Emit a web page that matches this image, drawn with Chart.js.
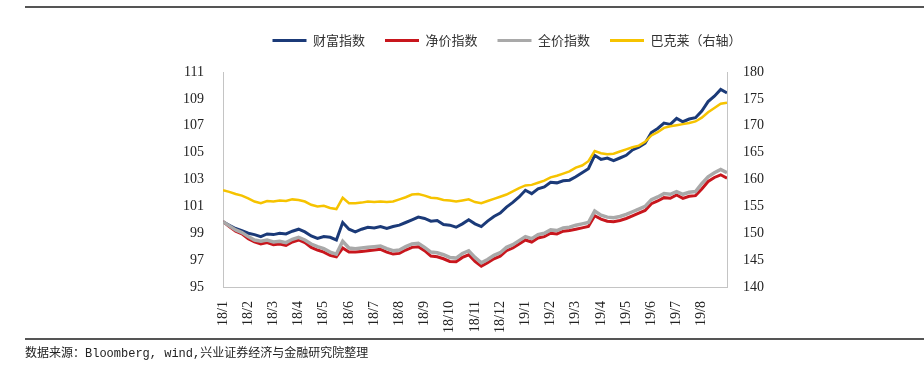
<!DOCTYPE html>
<html>
<head>
<meta charset="utf-8">
<script src="https://cdn.jsdelivr.net/npm/chart.js@4.4.0/dist/chart.umd.min.js"></script>
<style>
  html, body { margin: 0; padding: 0; background: #fff; }
  #wrap { position: relative; width: 924px; height: 369px; }
  #chart { position: absolute; left: 0; top: 0; }
  .rule { position: absolute; left: 25px; right: 0; height: 2px; background: #555; }
  #source { position: absolute; left: 25px; top: 343px; font: 12px 'Liberation Mono', 'Noto Sans CJK SC', monospace; color: #222; white-space: nowrap; }
</style>
</head>
<body>
<div id="wrap">
  <canvas id="chart" width="924" height="369"></canvas>
  <div class="rule" style="top:6px"></div>
  <div class="rule" style="top:338px"></div>
  <div id="source">数据来源：Bloomberg, wind,兴业证券经济与金融研究院整理</div>
</div>
<script>
// month tick labels, one per month start
var monthLabels = ['18/1','18/2','18/3','18/4','18/5','18/6','18/7','18/8','18/9','18/10',
                   '18/11','18/12','19/1','19/2','19/3','19/4','19/5','19/6','19/7','19/8'];

// x position of each reading, in months from 2018-01 (read every quarter month)
var monthPos = [0,0.25,0.5,0.75, 1,1.25,1.5,1.75, 2,2.25,2.5,2.75, 3,3.25,3.5,3.75,
                4,4.25,4.5,4.75, 5,5.25,5.5,5.75, 6,6.25,6.5,6.75, 7,7.25,7.5,7.75,
                8,8.25,8.5,8.75, 9,9.25,9.5,9.75, 10,10.25,10.5,10.75, 11,11.25,11.5,11.75,
                12,12.25,12.5,12.75, 13,13.25,13.5,13.75, 14,14.25,14.5,14.75, 15,15.25,15.5,15.75,
                16,16.25,16.5,16.75, 17,17.25,17.5,17.75, 18,18.25,18.5,18.75, 19,19.25,19.5,19.75, 20];

// 财富指数 (left axis)
var wealthIndex = [99.86,99.6,99.35,99.2, 99.0,98.9,98.75,98.95, 98.9,99.0,98.95,99.15, 99.3,99.1,98.8,98.62,
                   98.75,98.7,98.5,99.8, 99.3,99.11,99.3,99.45, 99.4,99.5,99.35,99.5, 99.6,99.8,100.0,100.2,
                   100.1,99.9,99.95,99.65, 99.6,99.45,99.7,100.0, 99.7,99.5,99.9,100.25, 100.5,100.95,101.3,101.7,
                   102.2,101.95,102.3,102.45, 102.8,102.75,102.9,102.95, 103.2,103.5,103.8,104.8, 104.5,104.6,104.4,104.6,
                   104.8,105.2,105.4,105.7, 106.5,106.8,107.2,107.1, 107.55,107.3,107.5,107.6, 108.1,108.8,109.2,109.7, 109.45];

// 净价指数 (left axis)
var cleanIndex = [99.86,99.5,99.15,98.95, 98.6,98.35,98.2,98.3, 98.15,98.2,98.1,98.35, 98.5,98.3,97.95,97.75,
                  97.6,97.35,97.25,97.9, 97.6,97.6,97.65,97.7, 97.75,97.8,97.6,97.45, 97.5,97.75,97.95,98.0,
                  97.7,97.3,97.25,97.1, 96.9,96.88,97.2,97.4, 96.9,96.55,96.8,97.1, 97.3,97.7,97.9,98.2,
                  98.5,98.35,98.65,98.75, 99.0,98.95,99.15,99.2, 99.3,99.4,99.5,100.3, 100.05,99.9,99.85,99.95,
                  100.1,100.3,100.5,100.7, 101.2,101.4,101.65,101.6, 101.85,101.6,101.75,101.8, 102.3,102.85,103.15,103.35, 103.1];

// 全价指数 (left axis)
var fullIndex = [99.86,99.55,99.25,99.05, 98.75,98.5,98.4,98.5, 98.35,98.4,98.3,98.55, 98.7,98.5,98.2,98.0,
                 97.85,97.6,97.45,98.4, 97.9,97.85,97.9,97.95, 98.0,98.05,97.85,97.7, 97.75,98.0,98.2,98.25,
                 97.95,97.6,97.55,97.4, 97.2,97.15,97.5,97.7, 97.2,96.8,97.05,97.35, 97.55,97.95,98.15,98.45,
                 98.75,98.6,98.9,99.0, 99.25,99.2,99.4,99.45, 99.6,99.7,99.8,100.65, 100.35,100.2,100.15,100.25,
                 100.4,100.6,100.8,101.0, 101.5,101.7,101.95,101.9, 102.1,101.9,102.05,102.1, 102.7,103.2,103.5,103.75, 103.5];

// 巴克莱 (right axis)
var barclays = [158.0,157.7,157.3,157.0, 156.5,155.9,155.6,156.0, 155.9,156.1,156.0,156.3, 156.2,155.9,155.3,155.0,
                155.1,154.7,154.5,156.6, 155.6,155.6,155.7,155.9, 155.8,155.9,155.8,155.9, 156.3,156.7,157.2,157.3,
                157.0,156.6,156.5,156.2, 156.1,155.9,156.1,156.3, 155.8,155.6,156.0,156.4, 156.8,157.2,157.8,158.4,
                158.9,159.0,159.4,159.8, 160.4,160.7,161.1,161.5, 162.2,162.6,163.4,165.3, 164.9,164.7,164.8,165.2,
                165.6,166.0,166.3,167.0, 168.2,168.8,169.6,169.9, 170.1,170.3,170.5,170.8, 171.5,172.5,173.3,174.1, 174.3];

function toPoints(ys) {
  return ys.map(function (y, i) { return { x: monthPos[i], y: y }; });
}

// push the plot area down below the legend
var legendGap = {
  id: 'legendGap',
  beforeInit: function (chart) {
    var origFit = chart.legend.fit;
    chart.legend.fit = function () {
      origFit.bind(chart.legend)();
      this.height += 15;
    };
  }
};

var serif = { family: "'Liberation Serif', 'Times New Roman', serif", size: 14 };
var axisBorder = { display: true, color: '#c4c4c4', dash: [2, 2] };

var ctx = document.getElementById('chart').getContext('2d');
var chart = new Chart(ctx, {
  type: 'line',
  data: {
    datasets: [
      { label: '财富指数', data: toPoints(wealthIndex), borderColor: '#1b3a78', backgroundColor: '#1b3a78',
        borderWidth: 3, pointRadius: 0, yAxisID: 'y', order: 4 },
      { label: '净价指数', data: toPoints(cleanIndex), borderColor: '#c8161d', backgroundColor: '#c8161d',
        borderWidth: 3, pointRadius: 0, yAxisID: 'y', order: 3 },
      { label: '全价指数', data: toPoints(fullIndex), borderColor: '#a9a9a9', backgroundColor: '#a9a9a9',
        borderWidth: 3.5, pointRadius: 0, yAxisID: 'y', order: 2 },
      { label: '巴克莱（右轴）', data: toPoints(barclays), borderColor: '#f6c300', backgroundColor: '#f6c300',
        borderWidth: 2.5, pointRadius: 0, yAxisID: 'y1', order: 1 }
    ]
  },
  options: {
    responsive: false,
    animation: false,
    events: [],
    layout: { padding: { top: 14, left: 110, right: 20, bottom: 30 } },
    plugins: {
      tooltip: { enabled: false },
      legend: {
        position: 'top',
        labels: {
          boxWidth: 34,
          boxHeight: 3,
          padding: 20,
          color: '#333',
          font: { family: "'Noto Sans CJK SC', sans-serif", size: 13 },
          sort: function (a, b) { return a.datasetIndex - b.datasetIndex; },
          generateLabels: function (chart) {
            var items = Chart.defaults.plugins.legend.labels.generateLabels(chart);
            items.forEach(function (it) { it.lineWidth = 0; });
            return items;
          }
        }
      }
    },
    scales: {
      x: {
        type: 'linear', min: 0, max: 20,
        grid: { display: false },
        border: axisBorder,
        ticks: {
          stepSize: 1, autoSkip: false, maxRotation: 90, minRotation: 90, padding: 6,
          color: '#222', font: serif,
          callback: function (v) { return monthLabels[v] || ''; }
        },
        afterFit: function (scale) { scale.height = 52; }
      },
      y: {
        position: 'left', min: 95, max: 111,
        grid: { display: false },
        border: axisBorder,
        ticks: { stepSize: 2, padding: 11, color: '#222', font: serif },
        afterFit: function (scale) { scale.width = 113; }
      },
      y1: {
        position: 'right', min: 140, max: 180,
        grid: { display: false },
        border: axisBorder,
        ticks: { stepSize: 5, padding: 8, color: '#222', font: serif },
        afterFit: function (scale) { scale.width = 177; }
      }
    }
  },
  plugins: [legendGap]
});
</script>
</body>
</html>
